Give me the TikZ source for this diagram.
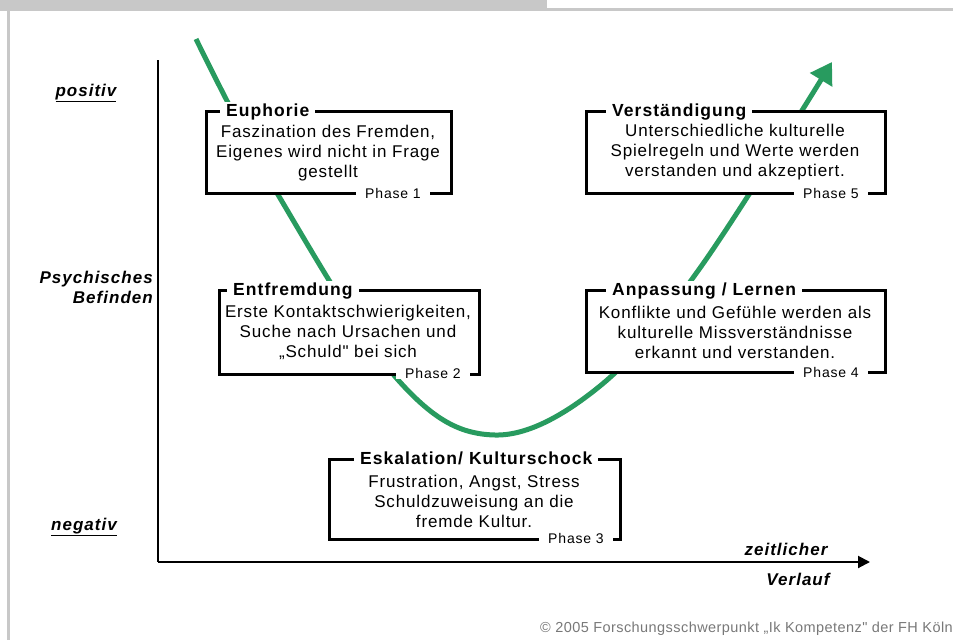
\documentclass[tikz,border=0pt]{standalone}
\usepackage{fontspec}
\setmainfont{Liberation Sans}
\newfontfamily\bodyfont[LetterSpace=5]{Liberation Sans}
\newfontfamily\titlefont[LetterSpace=6]{Liberation Sans}
\newfontfamily\phasefont[LetterSpace=6]{Liberation Sans}
\newfontfamily\axisfont[LetterSpace=6]{Liberation Sans}
\newfontfamily\copyfont[LetterSpace=3]{Liberation Sans}
\usetikzlibrary{arrows.meta}
\definecolor{curvegreen}{RGB}{40,155,95}
\definecolor{framegray}{RGB}{200,200,200}
\definecolor{copygray}{RGB}{120,120,120}
\tikzset{
  framebox/.style={draw=black, line width=3pt, fill=white, inner sep=0pt, anchor=north west},
  titlelbl/.style={fill=white, inner xsep=6pt, inner ysep=1pt, anchor=base west, font=\titlefont\bfseries\fontsize{17.5}{20}\selectfont},
  bodytxt/.style={align=center, inner sep=0pt, font=\bodyfont\fontsize{17}{20}\selectfont},
  phaselbl/.style={fill=white, inner xsep=9pt, inner ysep=1pt, anchor=base west, font=\phasefont\fontsize{14}{16}\selectfont},
  axislbl/.style={inner sep=0pt, font=\axisfont\bfseries\itshape\fontsize{17}{20}\selectfont},
  curveline/.style={draw=curvegreen, line width=5pt, -{Triangle[length=21pt,width=25pt]}},
  axisline/.style={draw=black, line width=1.6pt},
  pageframe/.style={draw=framegray, line width=3pt}
}
\begin{document}
\begin{tikzpicture}[x=1pt,y=-1pt]
\useasboundingbox (0,0) rectangle (953,640);
% page frame
\fill[framegray] (0,0) rectangle (547,8);
\draw[pageframe] (0,9.5) -- (953,9.5);
\draw[pageframe] (8,9.5) -- (8,640);
% axes
\coordinate (ytop) at (158,60);
\coordinate (origin) at (158,562);
\coordinate (xend) at (870,562);
\draw[axisline] (ytop) -- (origin);
\draw[axisline, line width=2pt, -{Triangle[length=12pt,width=12pt]}] (origin) -- (xend);
% axis labels
\node[axislbl] (pos) at (86,93) {\underline{positiv}};
\node[axislbl, align=right, anchor=east] (psy) at (153,287) {Psychisches\\Befinden};
\node[axislbl] (neg) at (84,527) {\underline{negativ}};
\node[axislbl] (zeit) at (786,549) {zeitlicher};
\node[axislbl] (verl) at (798,579) {Verlauf};
% green curve
\draw[curveline] plot[smooth, tension=0.6] coordinates {(196,39) (277,193) (399,381) (495,435) (600,386) (700,268) (832,62)};
% Box 1
\node[framebox, minimum width=245pt, minimum height=82pt] (box1) at (205,110) {};
\node[titlelbl] (t1) at (220,116) {Euphorie};
\node[bodytxt] (b1) at (328,153) {Faszination des Fremden,\\Eigenes wird nicht in Frage\\gestellt};
\node[phaselbl] (p1) at (356,198) {Phase 1};
% Box 2
\node[framebox, minimum width=260pt, minimum height=84pt] (box2) at (218,289) {};
\node[titlelbl] (t2) at (227,295) {Entfremdung};
\node[bodytxt] (b2) at (348,332) {Erste Kontaktschwierigkeiten,\\Suche nach Ursachen und\\„Schuld" bei sich};
\node[phaselbl] (p2) at (396,378) {Phase 2};
% Box 3
\node[framebox, minimum width=291pt, minimum height=80pt] (box3) at (328,458) {};
\node[titlelbl] (t3) at (354,464) {Eskalation/ Kulturschock};
\node[bodytxt] (b3) at (474,501) {Frustration, Angst, Stress\\Schuldzuweisung an die\\fremde Kultur.};
\node[phaselbl] (p3) at (539,543) {Phase 3};
% Box 4
\node[framebox, minimum width=299pt, minimum height=82pt] (box4) at (585,289) {};
\node[titlelbl] (t4) at (606,295) {Anpassung / Lernen};
\node[bodytxt] (b4) at (735,332) {Konflikte und Gefühle werden als\\kulturelle Missverständnisse\\erkannt und verstanden.};
\node[phaselbl] (p4) at (794,377) {Phase 4};
% Box 5
\node[framebox, minimum width=299pt, minimum height=82pt] (box5) at (585,110) {};
\node[titlelbl] (t5) at (606,116) {Verständigung};
\node[bodytxt] (b5) at (735,152) {Unterschiedliche kulturelle\\Spielregeln und Werte werden\\verstanden und akzeptiert.};
\node[phaselbl] (p5) at (794,198) {Phase 5};
% copyright
\node[anchor=base east, inner sep=0pt, text=copygray, font=\copyfont\fontsize{14.5}{16}\selectfont] (copy) at (953,632) {© 2005 Forschungsschwerpunkt „Ik Kompetenz" der FH Köln};
\end{tikzpicture}
\end{document}
